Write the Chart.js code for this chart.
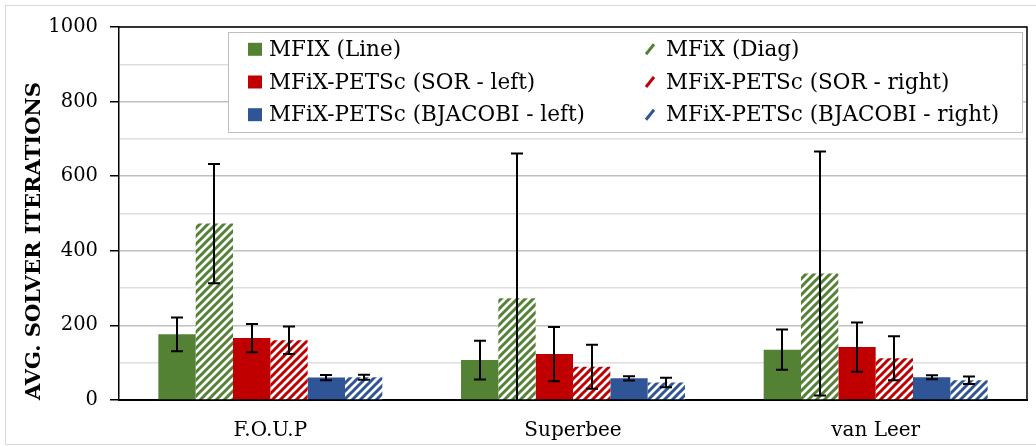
<!DOCTYPE html>
<html>
<head>
<meta charset="utf-8">
<script src="https://cdn.jsdelivr.net/npm/chart.js@4.4.0/dist/chart.umd.min.js"></script>
<style>
  html, body { margin: 0; padding: 0; background: #fff; }
  #wrap { width: 1036px; height: 446px; position: relative; }
</style>
</head>
<body>
<div id="wrap"><canvas id="c" width="1036" height="446"></canvas></div>
<script>
// ---- Data ----
const categories = ['F.O.U.P', 'Superbee', 'van Leer'];
const seriesNames = [
  'MFIX (Line)', 'MFiX (Diag)',
  'MFiX-PETSc (SOR - left)', 'MFiX-PETSc (SOR - right)',
  'MFiX-PETSc (BJACOBI - left)', 'MFiX-PETSc (BJACOBI - right)'
];
const mfixLine   = [176, 107, 135];
const mfixDiag   = [473, 273, 339];
const sorLeft    = [166, 123, 142];
const sorRight   = [160, 89, 112];
const bjLeft     = [60, 58, 61];
const bjRight    = [61, 47, 53];
const errMfixLine = [45, 52, 54];
const errMfixDiag = [160, 388, 327];
const errSorLeft  = [38, 73, 66];
const errSorRight = [37, 59, 59];
const errBjLeft   = [7, 6, 5.5];
const errBjRight  = [6.5, 12.5, 10];
const yTickLabels = ['0', '200', '400', '600', '800', '1000'];

const GREEN = '#548235', RED = '#C00000', BLUE = '#2F5597';
const FONT = "'DejaVu Serif', 'Liberation Serif', serif";

function hatch(color) {
  const s = 8;
  const cv = document.createElement('canvas');
  cv.width = s; cv.height = s;
  const g = cv.getContext('2d');
  g.fillStyle = '#fff';
  g.fillRect(0, 0, s, s);
  g.strokeStyle = color;
  g.lineWidth = 3;
  g.lineCap = 'square';
  g.beginPath();
  g.moveTo(-2, s + 2); g.lineTo(s + 2, -2);
  g.moveTo(-2, 2); g.lineTo(2, -2);
  g.moveTo(s - 2, s + 2); g.lineTo(s + 2, s - 2);
  g.stroke();
  return g.createPattern(cv, 'repeat');
}

const values = [mfixLine, mfixDiag, sorLeft, sorRight, bjLeft, bjRight];
const errors = [errMfixLine, errMfixDiag, errSorLeft, errSorRight, errBjLeft, errBjRight];
const colors = [GREEN, GREEN, RED, RED, BLUE, BLUE];
const hatched = [false, true, false, true, false, true];

const datasets = values.map((v, i) => ({
  label: seriesNames[i],
  data: v,
  errs: errors[i],
  baseColor: colors[i],
  hatched: hatched[i],
  backgroundColor: hatched[i] ? hatch(colors[i]) : colors[i],
  borderWidth: 0,
  categoryPercentage: 0.74,
  barPercentage: 1.0
}));

const bgPlugin = {
  id: 'bg',
  beforeDraw(chart) {
    const c = chart.ctx;
    c.save();
    c.fillStyle = '#fff';
    c.fillRect(0, 0, chart.width, chart.height);
    c.strokeStyle = '#d9d9d9';
    c.lineWidth = 1;
    c.strokeRect(5.5, 5.5, 1040, 439);
    c.restore();
  }
};

const errPlugin = {
  id: 'errbars',
  afterDatasetsDraw(chart) {
    const c = chart.ctx;
    const y = chart.scales.y;
    c.save();
    c.strokeStyle = '#000';
    c.lineWidth = 2;
    chart.data.datasets.forEach((ds, i) => {
      const meta = chart.getDatasetMeta(i);
      meta.data.forEach((bar, j) => {
        const v = ds.data[j], e = ds.errs[j];
        const hi = v + e, lo = Math.max(0, v - e);
        const x = Math.round(bar.x);
        const yh = y.getPixelForValue(hi), yl = y.getPixelForValue(lo);
        const cap = 6;
        c.beginPath();
        c.moveTo(x, yh); c.lineTo(x, yl);
        c.moveTo(x - cap, yh); c.lineTo(x + cap, yh);
        if (v - e >= 0) { c.moveTo(x - cap, yl); c.lineTo(x + cap, yl); }
        c.stroke();
      });
    });
    const a = chart.chartArea;
    c.strokeStyle = '#000';
    c.lineWidth = 1.5;
    c.beginPath();
    c.moveTo(a.left, a.top); c.lineTo(a.right, a.top); c.lineTo(a.right, a.bottom);
    c.stroke();
    c.restore();
  }
};

const legendPlugin = {
  id: 'customLegend',
  afterDraw(chart) {
    const c = chart.ctx;
    c.save();
    const bx = 228, by = 32, bw = 794, bh = 100;
    c.fillStyle = '#fff';
    c.fillRect(bx, by, bw, bh);
    c.strokeStyle = '#bfbfbf';
    c.lineWidth = 1;
    c.strokeRect(bx + 0.5, by + 0.5, bw, bh);
    const rows = [49.3, 82, 114.7];
    const colMarker = [248, 645];
    const colText = [269, 666];
    c.font = '21.5px ' + FONT;
    c.textBaseline = 'middle';
    c.fillStyle = '#000';
    chart.data.datasets.forEach((ds, i) => {
      const col = i % 2, row = Math.floor(i / 2);
      const cy = rows[row];
      if (ds.hatched) {
        c.strokeStyle = ds.baseColor;
        c.lineWidth = 3;
        c.beginPath();
        c.moveTo(colMarker[col] + 1, cy + 5);
        c.lineTo(colMarker[col] + 9, cy - 5);
        c.stroke();
      } else {
        c.fillStyle = ds.baseColor;
        c.fillRect(colMarker[col], cy - 6.5, 14, 13);
      }
      c.fillStyle = '#000';
      c.fillText(ds.label, colText[col], cy + 1);
    });
    c.restore();
  }
};

new Chart(document.getElementById('c'), {
  type: 'bar',
  data: { labels: categories, datasets },
  plugins: [bgPlugin, errPlugin, legendPlugin],
  options: {
    responsive: false,
    animation: false,
    layout: { padding: { top: 27, right: 9, left: 0, bottom: 0 } },
    plugins: { legend: { display: false }, tooltip: { enabled: false } },
    scales: {
      x: {
        grid: { display: false, drawTicks: false },
        border: { color: '#000', width: 2 },
        ticks: { color: '#000', padding: 19, font: { family: FONT, size: 20 } },
        afterFit(s) { s.height = 46; }
      },
      y: {
        min: 0, max: 1000,
        ticks: {
          stepSize: 100,
          color: '#000',
          padding: 12,
          font: { family: FONT, size: 19.5 },
          callback: (val) => {
            const s = String(val);
            return yTickLabels.includes(s) ? s : '';
          }
        },
        grid: {
          color: (ctx) => (ctx.tick && ctx.tick.value % 200 === 0) ? '#c0c0c0' : '#dedede',
          lineWidth: 1.5,
          tickLength: 9,
          tickColor: (ctx) => (ctx.tick && ctx.tick.value % 200 === 0) ? '#000' : 'rgba(0,0,0,0)'
        },
        border: { color: '#000', width: 1.5 },
        title: {
          display: true,
          text: 'AVG. SOLVER ITERATIONS',
          align: 'start',
          color: '#000',
          font: { family: FONT, size: 21, weight: 'bold' },
          padding: { top: 22, bottom: 0 }
        },
        afterFit(s) { s.width = 119; }
      }
    }
  }
});
</script>
</body>
</html>
